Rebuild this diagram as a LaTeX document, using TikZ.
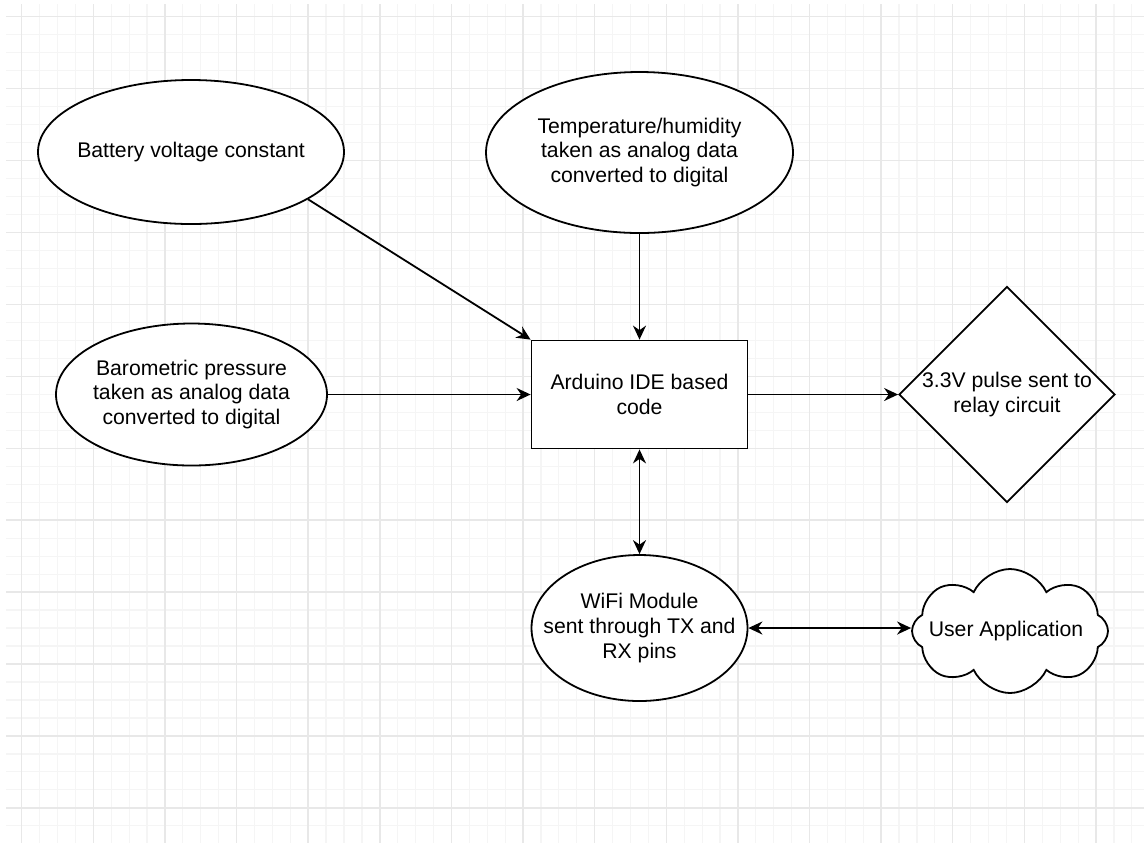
\documentclass[tikz,border=0pt]{standalone}
\usepackage{fontspec}
\setmainfont{Liberation Sans}
\usetikzlibrary{shapes.geometric,shapes.symbols,arrows.meta}

\tikzset{
    gridminor/.style={draw=black!4, line width=0.6pt},
    gridmajor/.style={draw=black!9, line width=0.7pt},
    shapeline/.style={draw=black, line width=0.9pt, fill=white, inner sep=0pt},
    oval/.style={shapeline, ellipse},
    txt/.style={font=\fontsize{10.6}{12.4}\selectfont, align=center, inner sep=0pt},
    flow/.style={draw, line width=0.9pt, -{Stealth[length=7pt,width=6.5pt]}},
    flowboth/.style={flow, {Stealth[length=7pt,width=6.5pt]}-{Stealth[length=7pt,width=6.5pt]}},
}

\begin{document}
\begin{tikzpicture}[x=0.5pt, y=-0.5pt]
    \useasboundingbox (0,0) rectangle (1144,843);
    \fill[white] (0,0) rectangle (1144,843);

    % 背景网格（细线）
    \foreach \k in {0,1,...,62} {
        \pgfmathsetmacro{\x}{21.7 + 17.905*\k}
        \draw[gridminor] (\x,4) -- (\x,843);
    }
    \foreach \k in {0,1,...,45} {
        \pgfmathsetmacro{\y}{16.7 + 17.98*\k}
        \draw[gridminor] (6,\y) -- (1144,\y);
    }
    % 背景网格（粗线）
    \foreach \k in {0,1,...,15} {
        \pgfmathsetmacro{\x}{21.7 + 71.62*\k}
        \draw[gridmajor] (\x,4) -- (\x,843);
    }
    \foreach \k in {0,1,...,11} {
        \pgfmathsetmacro{\y}{16.7 + 71.92*\k}
        \draw[gridmajor] (6,\y) -- (1144,\y);
    }

    % 输入
    \node[oval, minimum width=153pt, minimum height=72pt,
          label={[txt]center:Battery voltage constant}] (bat) at (191,152) {};
    \node[oval, minimum width=153.5pt, minimum height=80.5pt,
          label={[txt]center:Temperature/humidity\\taken as analog data\\converted to digital}] (temp) at (639.5,152.5) {};
    \node[oval, minimum width=135.5pt, minimum height=71pt,
          label={[txt]center:Barometric pressure\\taken as analog data\\converted to digital}] (baro) at (191.5,394.5) {};

    % 主程序
    \node[shapeline, rectangle, minimum width=108pt, minimum height=54pt, txt] (ard) at (639.5,394.5) {Arduino IDE based\\code};

    % 输出
    \node[shapeline, diamond, minimum width=108pt, minimum height=108pt,
          label={[txt]center:3.3V pulse sent to\\relay circuit}] (relay) at (1007,394.5) {};
    \node[oval, minimum width=108pt, minimum height=73pt,
          label={[txt]center:WiFi Module\\sent through TX and\\RX pins}] (wifi) at (639.5,628) {};
    \node[shapeline, cloud, cloud puffs=8, cloud puff arc=130, cloud ignores aspect, minimum width=98pt, minimum height=62pt,
          label={[txt, xshift=-2pt]center:User Application}] (user) at (1010,631) {};

    % 连线
    \draw[flow] (bat.-22) -- (ard.north west);
    \draw[flow] (temp.south) -- (ard.north);
    \draw[flow] (baro.east) -- (ard.west);
    \draw[flow] (ard.east) -- (relay.west);
    \draw[flowboth] (ard.south) -- (wifi.north);
    \draw[flowboth] (wifi.east) -- (wifi.east -| user.west);
\end{tikzpicture}
\end{document}
